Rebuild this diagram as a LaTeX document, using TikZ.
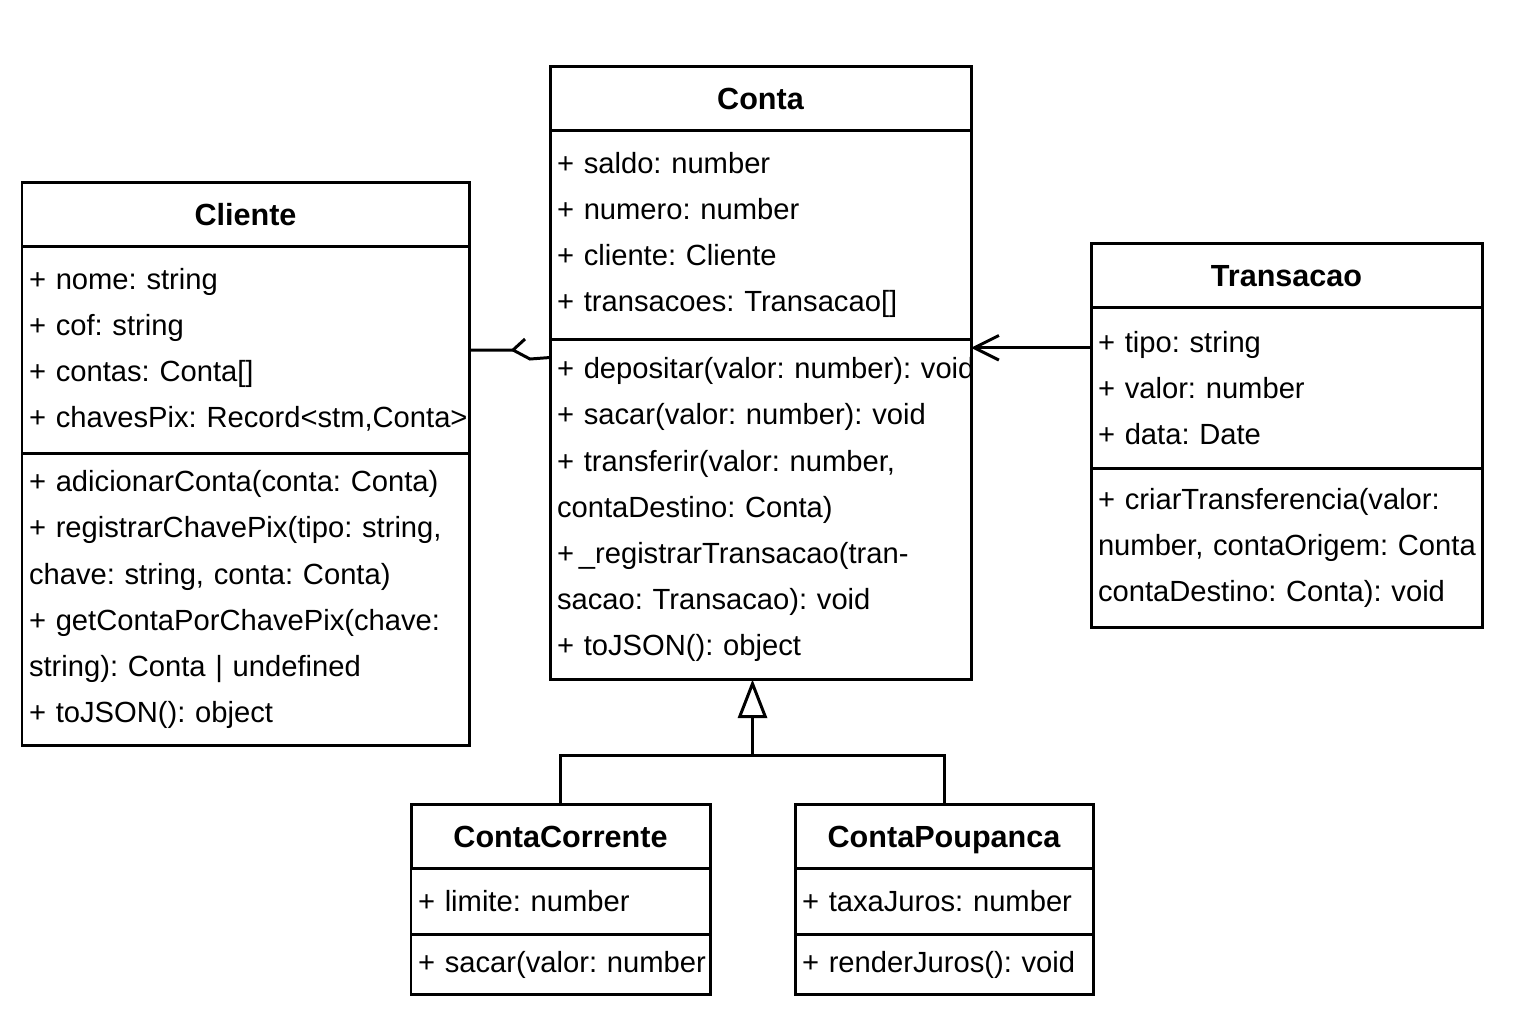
\documentclass[tikz,border=0pt]{standalone}
\usepackage{fontspec}
\setmainfont{Liberation Sans}
\usepackage{tikz}
\usetikzlibrary{positioning}
\usetikzlibrary{calc}
\usetikzlibrary{arrows.meta}

\frenchspacing

\tikzset{
  classhead/.style={draw, line width=0.85pt, outer sep=0pt, inner sep=0pt,
    minimum width=#1, minimum height=0.645cm, text height=6.4pt, text depth=0pt,
    font=\fontsize{8.7}{13.1}\selectfont\bfseries},
  classpart/.style={draw, line width=0.85pt, outer sep=0pt, inner xsep=0.07cm, inner ysep=0pt,
    text width=#1, align=left, font=\fontsize{8.3}{13.1}\selectfont},
}

\begin{document}
\begin{tikzpicture}[line width=0.85pt]

\useasboundingbox (0,0) rectangle (15.36,-10.24);

% Draw the classes
\node[classhead=4.21cm, anchor=north west] (conta) at (5.50,-0.66) {Conta};
\node[classpart=4.07cm, minimum height=2.09cm, below=0pt of conta] (catt)
  {+ saldo: number\\ + numero: number\\ + cliente: Cliente\\ + transacoes: Transacao[]};
\node[classpart=4.07cm, minimum height=3.40cm, below=0pt of catt] (cmeth)
  {\mbox{+ depositar(valor: number): void}\\ + sacar(valor: number): void\\
   + transferir(valor: number,\\ contaDestino: Conta)\\
   +\,\_registrarTransacao(tran-\\ sacao: Transacao): void\\ + toJSON(): object};

\node[classhead=4.47cm, anchor=north west] (cliente) at (0.22,-1.82) {Cliente};
\node[classpart=4.33cm, minimum height=2.07cm, below=0pt of cliente] (katt)
  {+ nome: string\\ + cof: string\\ + contas: Conta[]\\ \mbox{+ chavesPix: Record<stm,Conta>}};
\node[classpart=4.33cm, minimum height=2.92cm, below=0pt of katt] (kmeth)
  {+ adicionarConta(conta: Conta)\\ \mbox{+ registrarChavePix(tipo: string,}\\
   chave: string, conta: Conta)\\ + getContaPorChavePix(chave:\\
   string): Conta | undefined\\ + toJSON(): object};

\node[classhead=3.91cm, anchor=north west] (transacao) at (10.91,-2.43) {Transacao};
\node[classpart=3.77cm, minimum height=1.61cm, below=0pt of transacao] (tatt)
  {+ tipo: string\\ + valor: number\\ + data: Date};
\node[classpart=3.77cm, minimum height=1.59cm, below=0pt of tatt] (tmeth)
  {+ criarTransferencia(valor:\\ \mbox{number, contaOrigem: Conta}\\ contaDestino: Conta): void};

\node[classhead=2.99cm, anchor=north west] (corrente) at (4.11,-8.04) {ContaCorrente};
\node[classpart=2.85cm, minimum height=0.66cm, below=0pt of corrente] (ccatt)
  {+ limite: number};
\node[classpart=2.85cm, minimum height=0.60cm, below=0pt of ccatt] (ccmeth)
  {\mbox{+ sacar(valor: number}};

\node[classhead=2.98cm, anchor=north west] (poupanca) at (7.95,-8.04) {ContaPoupanca};
\node[classpart=2.84cm, minimum height=0.66cm, below=0pt of poupanca] (cpatt)
  {+ taxaJuros: number};
\node[classpart=2.84cm, minimum height=0.60cm, below=0pt of cpatt] (cpmeth)
  {\mbox{+ renderJuros(): void}};

% Draw the associations
\draw (katt.east) -- ++(0.44,0) coordinate (tip) -- ++(0.12,0.11);
\draw (tip) -- ++(0.17,-0.09) -- ($(cmeth.north west)+(0,-0.18)$);
\coordinate (tpoint) at ($(tatt.north west)!0.25!(tatt.south west)$);
\draw[-{Straight Barb[length=7pt, width=7pt]}] (tpoint) -- (tpoint -| cmeth.east);

% Draw the generalization
\coordinate (gen) at ($(cmeth.south)+(-0.08,-0.76)$);
\draw[-{Triangle[open, length=11pt, width=8.3pt]}] (gen) -- (gen |- cmeth.south);
\draw (corrente.north) |- (gen) -| (poupanca.north);

\end{tikzpicture}
\end{document}
